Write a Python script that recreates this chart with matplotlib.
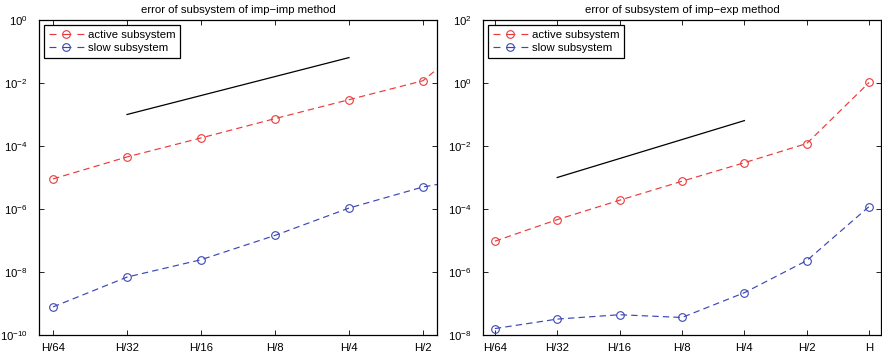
import numpy as np
import matplotlib
matplotlib.use('Agg')
import matplotlib.pyplot as plt
from matplotlib.lines import Line2D

plt.rcParams['font.family'] = ['Liberation Sans', 'DejaVu Sans']
plt.rcParams['mathtext.default'] = 'regular'
plt.rcParams['lines.scale_dashes'] = False

#______data
steps = ['H/64', 'H/32', 'H/16', 'H/8', 'H/4', 'H/2', 'H']
x = np.arange(1, 8)

# imp-imp (last point lies outside the shown range)
ii_active = [9.0e-6, 4.5e-5, 1.8e-4, 7.4e-4, 2.95e-3, 1.18e-2, 1.0e0]
ii_slow = [7.8e-10, 6.9e-9, 2.45e-8, 1.45e-7, 1.07e-6, 5.0e-6, 1.3e-5]

# imp-exp
ie_active = [9.5e-6, 4.6e-5, 1.9e-4, 7.6e-4, 2.95e-3, 1.2e-2, 1.04e0]
ie_slow = [1.6e-8, 3.2e-8, 4.4e-8, 3.6e-8, 2.2e-7, 2.3e-6, 1.2e-4]

# order reference line
ref_x = [2, 5]
ref_y = [1.0e-3, 6.4e-2]

red = '#ec3a3a'
blue = '#3b47b6'
dash = (4.6, 3.0)

fig = plt.figure(figsize=(8.82, 3.59), dpi=100)
ax1 = fig.add_axes([39 / 882, 24 / 359, 398 / 882, 315 / 359])
ax2 = fig.add_axes([483 / 882, 24 / 359, 398 / 882, 315 / 359])


def panel(ax, act, slow, nx, ylo, yhi, title):
    ax.semilogy(x, act, color=red, lw=0.85, dashes=dash, marker='o', ms=5.5,
                mfc='none', mec=red, mew=0.8)
    ax.semilogy(x, slow, color=blue, lw=0.85, dashes=dash, marker='o', ms=5.5,
                mfc='none', mec=blue, mew=0.8)
    ax.semilogy(ref_x, ref_y, color='k', lw=0.9)
    ax.set_xlim(0.81, nx + 0.19)
    ax.set_ylim(ylo, yhi)
    ax.set_xticks(x[:nx])
    ax.set_xticklabels(steps[:nx])
    ax.set_yticks([10.0 ** k for k in range(int(np.log10(ylo)), int(np.log10(yhi)) + 1, 2)])
    ax.minorticks_off()
    ax.tick_params(direction='in', top=True, right=True, length=3.5, width=0.6,
                   labelsize=8.2)
    ax.tick_params(axis='x', pad=6)
    ax.tick_params(axis='y', pad=8)
    for s in ax.spines.values():
        s.set_linewidth(0.9)
    ax.set_title(title, fontsize=8.2, pad=5)
    # proxy handles so the legend shows "- o -"
    pat = (5.0, 4.3, 6.5, 4.3, 5.0, 60)
    h = [Line2D([], [], color=red, lw=0.85, dashes=pat, marker='o', ms=5.5,
                mfc='none', mec=red, mew=0.8),
         Line2D([], [], color=blue, lw=0.85, dashes=pat, marker='o', ms=5.5,
                mfc='none', mec=blue, mew=0.8)]
    leg = ax.legend(h, ['active subsystem', 'slow subsystem'], loc='upper left',
                    fontsize=8.2, numpoints=1, handlelength=3.07, handletextpad=0.35,
                    borderpad=0.4, labelspacing=0.3, borderaxespad=0.45,
                    fancybox=False, framealpha=1, edgecolor='k')
    leg.get_frame().set_linewidth(0.9)


panel(ax1, ii_active, ii_slow, 6, 1e-10, 1e0, 'error of subsystem of imp\u2212imp method')
panel(ax2, ie_active, ie_slow, 7, 1e-8, 1e2, 'error of subsystem of imp\u2212exp method')

fig.savefig('out.png', dpi=100)
